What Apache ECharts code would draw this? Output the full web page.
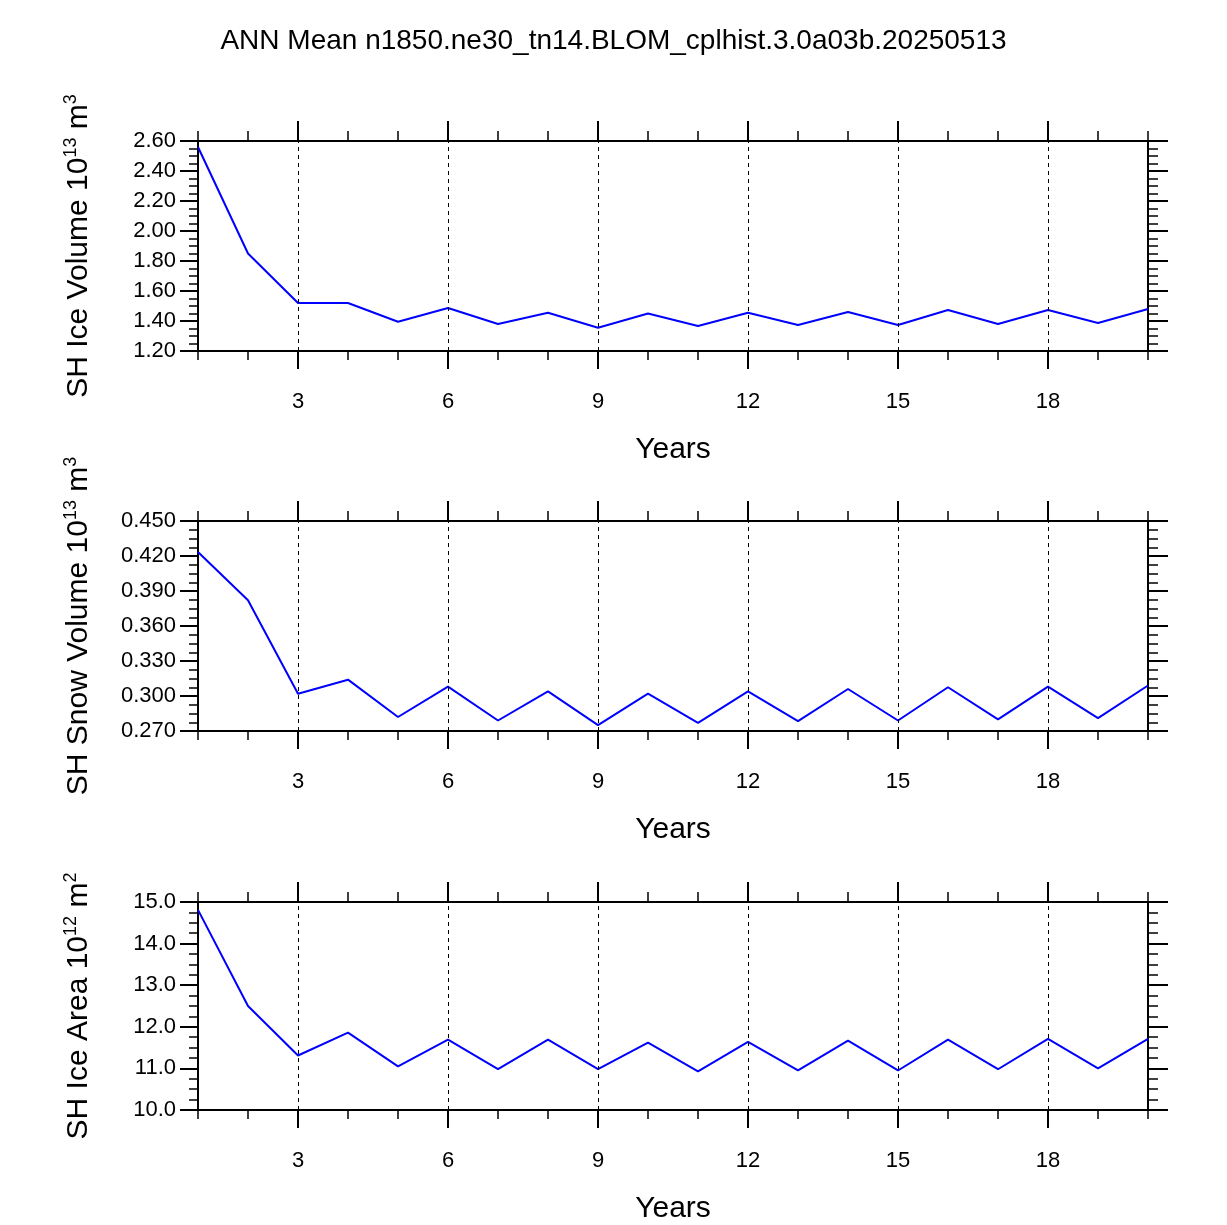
<!DOCTYPE html>
<html>
<head>
<meta charset="utf-8">
<script src="https://cdn.jsdelivr.net/npm/echarts@6/dist/echarts.min.js"></script>
<style>html,body{margin:0;padding:0;background:#fff}#main{width:1227px;height:1225px}</style>
</head>
<body>
<div id="main"></div>
<script>
var years = [1,2,3,4,5,6,7,8,9,10,11,12,13,14,15,16,17,18,19,20];
var iceVolume = [2.56,1.85,1.52,1.52,1.395,1.487,1.38,1.455,1.355,1.45,1.367,1.455,1.373,1.46,1.373,1.473,1.38,1.473,1.387,1.48];
var snowVolume = [0.4235,0.382,0.302,0.314,0.282,0.308,0.279,0.304,0.275,0.302,0.277,0.304,0.2785,0.306,0.279,0.3075,0.28,0.308,0.281,0.309];
var iceArea = [14.81,12.5,11.31,11.86,11.05,11.69,10.98,11.69,10.98,11.62,10.93,11.64,10.95,11.67,10.95,11.69,10.98,11.71,11.0,11.71];
var majorYears = [3,6,9,12,15,18];

var panels = [
  {name:'SH Ice Volume 10{sup|13} m{sup|3}', data:iceVolume, min:1.2, max:2.6, interval:0.2, dec:2, top:141},
  {name:'SH Snow Volume 10{sup|13} m{sup|3}', data:snowVolume, min:0.27, max:0.45, interval:0.03, dec:3, top:521},
  {name:'SH Ice Area 10{sup|12} m{sup|2}', data:iceArea, min:10, max:15, interval:1, dec:1, top:902}
];

var font = 'Liberation Sans, Arial, sans-serif';
var grid = [], xAxis = [], yAxis = [], series = [];
var axLine = {lineStyle:{color:'#000', width:2}};

panels.forEach(function(p, g){
  grid.push({left:198, width:950, top:p.top, height:210});
  // bottom major (with labels), bottom minor, top major, top minor
  var base = {type:'value', gridIndex:g, min:1, max:20, splitLine:{show:false}};
  xAxis.push(Object.assign({}, base, {
    position:'bottom', axisLine:axLine,
    axisTick:{customValues:majorYears, length:18, lineStyle:{color:'#000', width:2}},
    axisLabel:{customValues:majorYears, color:'#000', fontSize:22, fontFamily:font, margin:40},
    name:'Years', nameLocation:'middle', nameGap:84,
    nameTextStyle:{color:'#000', fontSize:30, fontFamily:font}
  }));
  xAxis.push(Object.assign({}, base, {
    position:'bottom', interval:1, axisLine:{show:false},
    axisTick:{length:9, lineStyle:{color:'#000', width:1.5}}, axisLabel:{show:false}
  }));
  xAxis.push(Object.assign({}, base, {
    position:'top', axisLine:axLine,
    axisTick:{customValues:majorYears, length:20, lineStyle:{color:'#000', width:2}},
    axisLabel:{show:false}
  }));
  xAxis.push(Object.assign({}, base, {
    position:'top', interval:1, axisLine:{show:false},
    axisTick:{length:10, lineStyle:{color:'#000', width:1.5}}, axisLabel:{show:false}
  }));
  var ybase = {type:'value', gridIndex:g, min:p.min, max:p.max, interval:p.interval,
    splitLine:{show:false}, axisLine:axLine,
    minorTick:{show:true, splitNumber:4, length:9, lineStyle:{color:'#000', width:1.5}}};
  yAxis.push(Object.assign({}, ybase, {
    position:'left',
    axisTick:{length:18, lineStyle:{color:'#000', width:2}},
    axisLabel:{color:'#000', fontSize:22, fontFamily:font, margin:22,
      formatter:function(v){return v.toFixed(p.dec);}},
    name:p.name, nameLocation:'middle', nameRotate:90, nameGap:102,
    nameTextStyle:{color:'#000', fontSize:30, fontFamily:font,
      rich:{sup:{fontSize:18, fontFamily:font, color:'#000', padding:[0,0,16,0]}}}
  }));
  yAxis.push(Object.assign({}, ybase, {
    position:'right',
    axisTick:{length:20, lineStyle:{color:'#000', width:2}},
    minorTick:{show:true, splitNumber:4, length:10, lineStyle:{color:'#000', width:1.5}},
    axisLabel:{show:false}
  }));
  series.push({
    type:'line', xAxisIndex:g*4, yAxisIndex:g*2, showSymbol:false, animation:false,
    data:years.map(function(y,i){return [y, p.data[i]];}),
    lineStyle:{color:'#0000ff', width:2}, itemStyle:{color:'#0000ff'},
    markLine:{silent:true, symbol:'none', label:{show:false},
      lineStyle:{color:'#000', width:1, type:[4,4]},
      data:majorYears.map(function(y){return {xAxis:y};})}
  });
});

var chart = echarts.init(document.getElementById('main'));
chart.setOption({
  animation:false,
  backgroundColor:'#fff',
  title:{text:'ANN Mean n1850.ne30_tn14.BLOM_cplhist.3.0a03b.20250513', left:'center', top:22,
    textStyle:{color:'#000', fontSize:28, fontWeight:'normal', fontFamily:font}},
  grid:grid, xAxis:xAxis, yAxis:yAxis, series:series
});
</script>
</body>
</html>
